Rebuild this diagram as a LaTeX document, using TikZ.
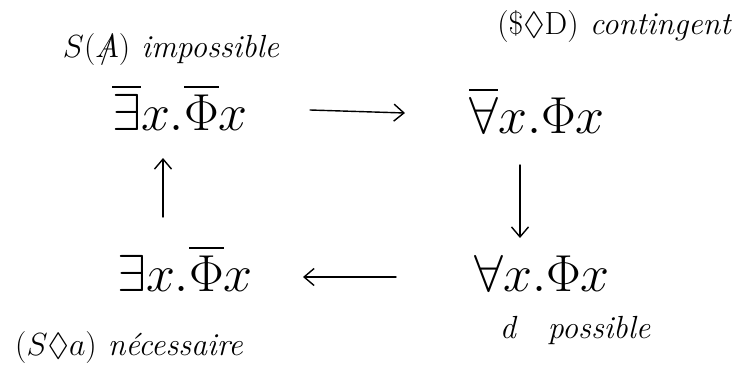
\RequirePackage{fix-cm}
\documentclass[tikz,border=0pt]{standalone}
\usepackage{amssymb}
\usepackage{fontspec}
\usetikzlibrary{arrows.meta}
\newcommand{\barA}{\mathord{\hbox{\ooalign{$A$\cr\hfil$/$\hfil\cr}}}}
\tikzset{
  formula/.style={inner sep=0pt, anchor=base, font=\fontsize{52}{60}\selectfont},
  lbl/.style={inner sep=0pt, anchor=base, font=\fontsize{32}{38}\selectfont\itshape},
  arr/.style={line width=1.4pt, line cap=round,
    -{Straight Barb[length=10pt,width=17pt,line width=1.4pt]}},
}
\begin{document}
\begin{tikzpicture}[x=1pt,y=-1pt]
  \useasboundingbox (0,0) rectangle (733,369);
  % formulas
  \node[formula] (tl) at (180,130) {$\overline{\exists}x.\overline{\Phi}x$};
  \node[formula] (tr) at (537,133) {$\overline{\forall}x.\Phi x$};
  \node[formula] (bl) at (185,291) {$\exists x.\overline{\Phi}x$};
  \node[formula] (br) at (542,291) {$\forall x.\Phi x$};
  % labels
  \node[lbl] (ltl) at (171,57) {$S(\barA)$ impossible};
  \node[lbl] (ltr) at (614,35) {$(\$\Diamond \mathrm{D})$ contingent};
  \node[lbl] (lbl) at (129,355) {$(S\Diamond a)$ nécessaire};
  \node[lbl] (lbr) at (575,338) {d\quad possible};
  % arrows
  \draw[arr] ([shift={(62,-20)}]tl.base east) -- ([shift={(-64,-20)}]tr.base west);
  \draw[arr] ([shift={(-17,32)}]tr.base) -- ([shift={(-22,-53)}]br.base);
  \draw[arr] ([shift={(-78,-14)}]br.base west) -- ([shift={(50,-14)}]bl.base east);
  \draw[arr] ([shift={(-22,-74)}]bl.base) -- ([shift={(-17,28)}]tl.base);
\end{tikzpicture}
\end{document}
